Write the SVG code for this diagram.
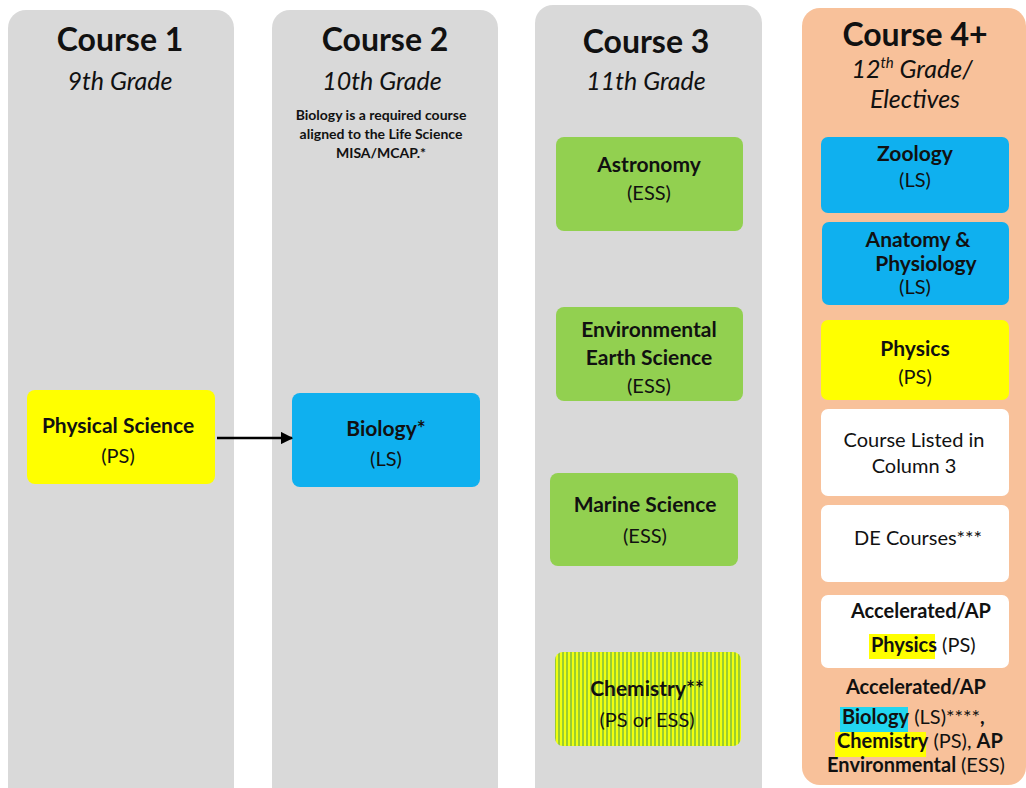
<svg xmlns="http://www.w3.org/2000/svg" width="1026" height="788" viewBox="0 0 1026 788">
<style>
.col{fill:#d9d9d9}
.t{font-family:Lato,"Liberation Sans",sans-serif;fill:#111;text-anchor:middle}
.h{font-weight:bold;font-size:32px}
.g{font-style:italic;font-size:25px}
.b{font-weight:bold;font-size:21px}
.n{font-size:20px}
.s{font-weight:bold;font-size:14px}
.st{text-anchor:start}
.bn{font-weight:normal}
.bb{font-weight:bold}
.m{font-size:20px}
</style>
<defs>
<pattern id="stripe" width="4" height="4" patternUnits="userSpaceOnUse">
<rect width="4" height="4" fill="#99cc33"/>
<rect width="2" height="4" fill="#f0ff10"/>
</pattern>
<marker id="ah" viewBox="0 0 10 10" refX="9" refY="5" markerWidth="5" markerHeight="5" orient="auto" markerUnits="strokeWidth">
<path d="M0,0 L10,5 L0,10 z" fill="#000"/>
</marker>
</defs>
<rect width="1026" height="788" fill="#fff"/>

<g id="col1">
<rect class="col" x="8" y="10" width="226" height="800" rx="18"/>
<text class="t h" x="120" y="51">Course 1</text>
<text class="t g" x="120" y="90">9th Grade</text>
</g>
<g id="col2">
<rect class="col" x="272" y="10" width="226" height="800" rx="18"/>
<text class="t h" x="385" y="51">Course 2</text>
<text class="t g" x="382" y="90">10th Grade</text>
<text class="t s" x="381" y="120">Biology is a required course</text>
<text class="t s" x="381" y="139">aligned to the Life Science</text>
<text class="t s" x="381" y="158">MISA/MCAP.*</text>
</g>
<g id="col3">
<rect class="col" x="535" y="5" width="227" height="800" rx="18"/>
<text class="t h" x="646" y="53">Course 3</text>
<text class="t g" x="646" y="90">11th Grade</text>
</g>
<g id="col4">
<rect x="802" y="8" width="224" height="777" rx="18" fill="#f8c19a"/>
<text class="t h" x="915" y="46">Course 4+</text>
<text class="t g" x="912" y="78">12<tspan font-size="15" dy="-10">th</tspan><tspan dy="10"> Grade/</tspan></text>
<text class="t g" x="915" y="108">Electives</text>
</g>

<g id="physical-science">
<rect x="27" y="390" width="188" height="94" rx="8" fill="#ffff00"/>
<text class="t b" x="118" y="433">Physical Science</text>
<text class="t n" x="118" y="463">(PS)</text>
</g>
<g id="biology">
<rect x="292" y="393" width="188" height="94" rx="8" fill="#0fb0ef"/>
<text class="t b" x="386" y="436">Biology*</text>
<text class="t n" x="386" y="466">(LS)</text>
</g>
<g id="astronomy">
<rect x="556" y="137" width="187" height="94" rx="8" fill="#92d050"/>
<text class="t b" x="649" y="172">Astronomy</text>
<text class="t n" x="649" y="200">(ESS)</text>
</g>
<g id="environmental">
<rect x="556" y="307" width="187" height="94" rx="8" fill="#92d050"/>
<text class="t b" x="649" y="337">Environmental</text>
<text class="t b" x="649" y="365">Earth Science</text>
<text class="t n" x="649" y="393">(ESS)</text>
</g>
<g id="marine">
<rect x="550" y="473" width="188" height="93" rx="8" fill="#92d050"/>
<text class="t b" x="645" y="512">Marine Science</text>
<text class="t n" x="645" y="543">(ESS)</text>
</g>
<g id="chemistry">
<rect x="555" y="652" width="186" height="94" rx="8" fill="url(#stripe)"/>
<text class="t b" x="647" y="696">Chemistry**</text>
<text class="t n" x="647" y="727">(PS or ESS)</text>
</g>
<g id="zoology">
<rect x="821" y="137" width="188" height="76" rx="7" fill="#0fb0ef"/>
<text class="t b" x="915" y="161">Zoology</text>
<text class="t n" x="915" y="187">(LS)</text>
</g>
<g id="anatomy">
<rect x="822" y="222" width="187" height="83" rx="7" fill="#0fb0ef"/>
<text class="t b" x="918" y="247">Anatomy &amp;</text>
<text class="t b" x="926" y="271">Physiology</text>
<text class="t n" x="915" y="294">(LS)</text>
</g>
<g id="physics">
<rect x="821" y="320" width="188" height="80" rx="7" fill="#ffff00"/>
<text class="t b" x="915" y="356">Physics</text>
<text class="t n" x="915" y="384">(PS)</text>
</g>
<g id="listed">
<rect x="821" y="409" width="188" height="87" rx="7" fill="#fff"/>
<text class="t n" x="914" y="447">Course Listed in</text>
<text class="t n" x="914" y="473">Column 3</text>
</g>
<g id="de">
<rect x="821" y="505" width="188" height="77" rx="7" fill="#fff"/>
<text class="t n" x="918" y="545">DE Courses***</text>
</g>
<g id="ap-physics">
<rect x="821" y="595" width="188" height="73" rx="7" fill="#fff"/>
<text class="t m bb" x="921" y="618">Accelerated/AP</text>
<rect x="869" y="634" width="66" height="25" fill="#ffff00"/>
<text class="t m st bb" x="871" y="652">Physics<tspan class="bn"> (PS)</tspan></text>
</g>
<g id="ap-others">
<text class="t m bb" x="916" y="694">Accelerated/AP</text>
<rect x="840" y="707" width="68" height="25" fill="#22d6f0"/>
<text class="t m st bb" x="842" y="724">Biology<tspan class="bn"> (LS)****</tspan>,</text>
<rect x="835" y="732" width="91" height="25" fill="#ffff00"/>
<text class="t m st bb" x="837" y="748">Chemistry<tspan class="bn"> (PS), </tspan>AP</text>
<text class="t m bb" x="916" y="772">Environmental <tspan class="bn">(ESS)</tspan></text>
</g>

<g id="connectors">
<line x1="217" y1="438" x2="292" y2="438" stroke="#000" stroke-width="2.5" marker-end="url(#ah)"/>
</g>
</svg>
